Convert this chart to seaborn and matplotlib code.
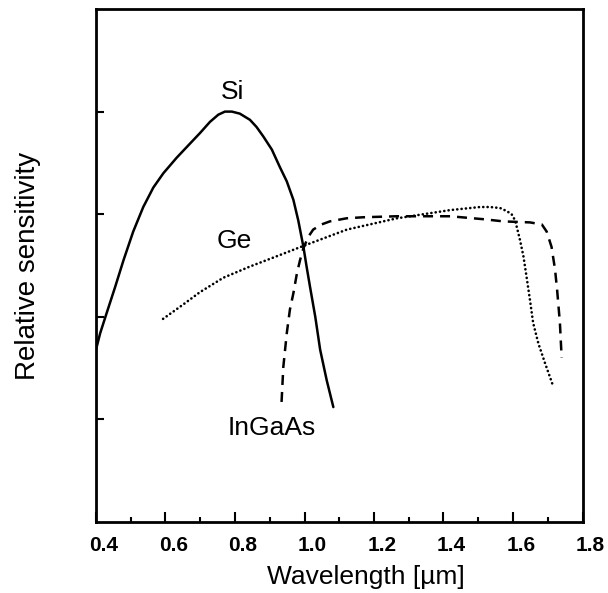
import numpy as np
import pandas as pd
import seaborn as sns
import matplotlib.pyplot as plt
import matplotlib.transforms as mtransforms

# Curves (wavelength in um, relative sensitivity)
si_wl = [0.400, 0.412, 0.431, 0.455, 0.479, 0.507, 0.536, 0.565, 0.594, 0.632,
         0.671, 0.699, 0.728, 0.752, 0.771, 0.791, 0.814, 0.843, 0.862, 0.881,
         0.906, 0.929, 0.949, 0.968, 0.982, 0.997, 1.006, 1.016, 1.031, 1.045,
         1.064, 1.083]
si_val = [1.68, 1.84, 2.04, 2.29, 2.55, 2.83, 3.07, 3.26, 3.40, 3.55,
          3.69, 3.79, 3.90, 3.97, 4.00, 4.00, 3.98, 3.92, 3.85, 3.76,
          3.63, 3.46, 3.32, 3.14, 2.94, 2.68, 2.49, 2.29, 2.00, 1.68,
          1.38, 1.12]

ge_wl = [0.593, 0.651, 0.699, 0.766, 0.843, 0.920, 0.996, 1.122, 1.266, 1.419,
         1.505, 1.534, 1.563, 1.582, 1.596, 1.606, 1.612, 1.620, 1.630, 1.639,
         1.649, 1.658, 1.673, 1.692, 1.716]
ge_val = [1.98, 2.12, 2.24, 2.38, 2.49, 2.59, 2.69, 2.85, 2.96, 3.04,
          3.07, 3.07, 3.06, 3.03, 3.00, 2.94, 2.86, 2.75, 2.59, 2.39,
          2.16, 1.94, 1.74, 1.55, 1.32]

ingaas_wl = [0.934, 0.939, 0.949, 0.958, 0.968, 0.978, 0.987, 0.997, 1.011, 1.025,
             1.049, 1.073, 1.121, 1.168, 1.266, 1.419, 1.519, 1.572, 1.649, 1.683,
             1.697, 1.711, 1.721, 1.727, 1.735, 1.740]
ingaas_val = [1.17, 1.51, 1.84, 2.07, 2.23, 2.42, 2.55, 2.67, 2.78, 2.85,
              2.90, 2.93, 2.96, 2.97, 2.98, 2.98, 2.95, 2.93, 2.92, 2.90,
              2.83, 2.68, 2.46, 2.26, 1.94, 1.60]

x_ticks = [0.4, 0.6, 0.8, 1.0, 1.2, 1.4, 1.6, 1.8]
x_tick_labels = ['0.4', '0.6', '0.8', '1.0', '1.2', '1.4', '1.6', '1.8']

df = pd.concat([
    pd.DataFrame({'wl': si_wl, 'sens': si_val, 'det': 'Si'}),
    pd.DataFrame({'wl': ge_wl, 'sens': ge_val, 'det': 'Ge'}),
    pd.DataFrame({'wl': ingaas_wl, 'sens': ingaas_val, 'det': 'InGaAs'}),
])

sns.set_style('ticks', {'axes.edgecolor': 'black', 'xtick.color': 'black',
                        'ytick.color': 'black', 'text.color': 'black',
                        'axes.labelcolor': 'black'})
plt.rcParams['font.family'] = ['Liberation Sans', 'DejaVu Sans']

fig = plt.figure(figsize=(6.08, 5.93), dpi=100)
ax = fig.add_axes([96 / 608, 1 - 522 / 593, 486.5 / 608, 513 / 593])

sns.lineplot(data=df[df.det == 'Si'], x='wl', y='sens', ax=ax, color='black',
             lw=1.8, estimator=None)
sns.lineplot(data=df[df.det == 'Ge'], x='wl', y='sens', ax=ax, color='black',
             lw=1.9, estimator=None, linestyle=(0, (0.05, 1.6)),
             dash_capstyle='round')
sns.lineplot(data=df[df.det == 'InGaAs'], x='wl', y='sens', ax=ax, color='black',
             lw=1.8, estimator=None, linestyle=(0, (4, 2.8)))

ax.text(0.794, 4.12, 'Si', fontsize=19, ha='center', va='baseline')
ax.text(0.797, 2.67, 'Ge', fontsize=19, ha='center', va='baseline')
ax.text(0.906, 0.85, 'InGaAs', fontsize=19, ha='center', va='baseline')

ax.set_xlim(0.4, 1.8)
ax.set_ylim(0, 5)
ax.set_xticks(x_ticks)
ax.set_xticklabels(x_tick_labels, fontsize=15, fontweight='bold')
ax.set_xticks(np.arange(0.5, 1.8, 0.2), minor=True)
ax.set_yticks([1, 2, 3, 4])
ax.set_yticklabels([])

ax.tick_params(axis='x', which='major', direction='in', length=7, width=1.5,
               pad=10, top=False)
ax.tick_params(axis='x', which='minor', direction='in', length=3.5, width=1.5,
               top=False)
ax.tick_params(axis='y', direction='in', length=6, width=1.5, right=False)

# tick labels sit a little right of their ticks in the reference
offset = mtransforms.ScaledTranslation(8 / 100, 0, fig.dpi_scale_trans)
for lab in ax.get_xticklabels():
    lab.set_transform(lab.get_transform() + offset)

for sp in ax.spines.values():
    sp.set_linewidth(2.0)
    sp.set_color('black')
    sp.set_visible(True)

ax.set_xlabel('Wavelength [µm]', fontsize=19)
ax.set_ylabel('Relative sensitivity', fontsize=20)
ax.xaxis.set_label_coords(0.555, -0.084)
ax.yaxis.set_label_coords(-0.113, 0.5)

fig.savefig('out.png', dpi=100)
